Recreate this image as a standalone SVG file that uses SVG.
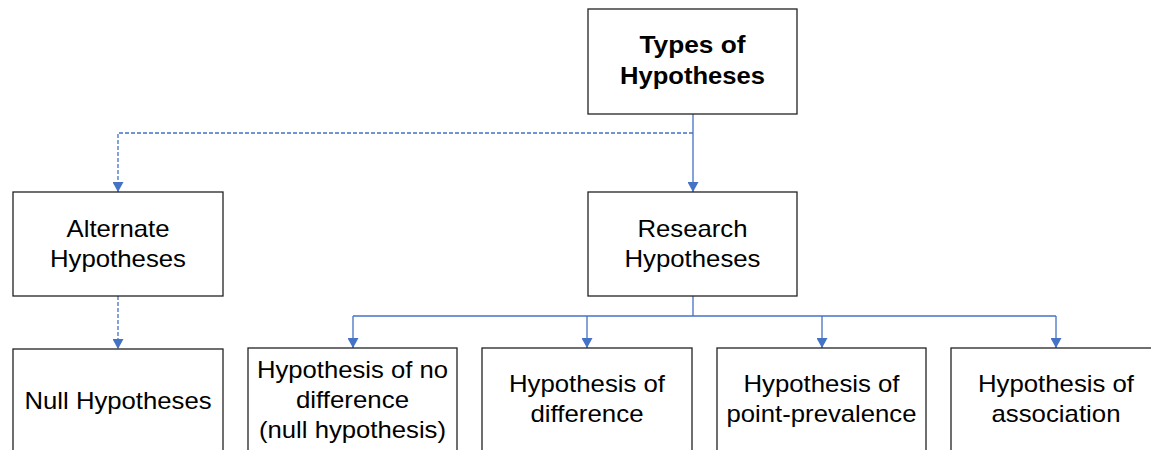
<svg xmlns="http://www.w3.org/2000/svg" width="1151" height="450" viewBox="0 0 1151 450">
<style>
.box{fill:#fff;stroke:#222;stroke-width:1.3}
.t{font-family:"Liberation Sans",Arial,sans-serif;font-size:24px;fill:#000;text-anchor:middle}
.b{font-weight:bold}
.c{fill:none;stroke:#4472C4;stroke-width:1.3}
.d{stroke-dasharray:4 2}
</style>
<defs>
<marker id="ah" markerWidth="11" markerHeight="11" refX="10" refY="5.5" orient="auto" markerUnits="userSpaceOnUse">
<path d="M0,0 L10,5.5 L0,11 Z" fill="#4472C4"/>
</marker>
</defs>
<rect width="1151" height="450" fill="#fff"/>
<g id="connectors">
<path class="c" d="M693,114 V192" marker-end="url(#ah)"/>
<path class="c d" d="M693,133 H118 V192" marker-end="url(#ah)"/>
<path class="c d" d="M118,296 V349" marker-end="url(#ah)"/>
<path class="c" d="M693,296 V316"/>
<path class="c" d="M353,316 H1056"/>
<path class="c" d="M353,316 V348" marker-end="url(#ah)"/>
<path class="c" d="M587,316 V348" marker-end="url(#ah)"/>
<path class="c" d="M822,316 V348" marker-end="url(#ah)"/>
<path class="c" d="M1056,316 V348" marker-end="url(#ah)"/>
</g>
<g id="types">
<rect class="box" x="588" y="9" width="209" height="105"/>
<text class="t b" x="692.5" y="53" textLength="106" lengthAdjust="spacingAndGlyphs">Types of</text>
<text class="t b" x="692.5" y="84" textLength="145" lengthAdjust="spacingAndGlyphs">Hypotheses</text>
</g>
<g id="alternate">
<rect class="box" x="13" y="192" width="210" height="104"/>
<text class="t" x="118" y="237" textLength="103" lengthAdjust="spacingAndGlyphs">Alternate</text>
<text class="t" x="118" y="267" textLength="136" lengthAdjust="spacingAndGlyphs">Hypotheses</text>
</g>
<g id="research">
<rect class="box" x="588" y="192" width="209" height="104"/>
<text class="t" x="692.5" y="237" textLength="110" lengthAdjust="spacingAndGlyphs">Research</text>
<text class="t" x="692.5" y="267" textLength="136" lengthAdjust="spacingAndGlyphs">Hypotheses</text>
</g>
<g id="null">
<rect class="box" x="13" y="349" width="210" height="120"/>
<text class="t" x="118" y="409" textLength="187" lengthAdjust="spacingAndGlyphs">Null Hypotheses</text>
</g>
<g id="nodiff">
<rect class="box" x="248" y="348" width="209" height="120"/>
<text class="t" x="352.5" y="378" textLength="191" lengthAdjust="spacingAndGlyphs">Hypothesis of no</text>
<text class="t" x="352.5" y="408" textLength="113" lengthAdjust="spacingAndGlyphs">difference</text>
<text class="t" x="352.5" y="438" textLength="187" lengthAdjust="spacingAndGlyphs">(null hypothesis)</text>
</g>
<g id="diff">
<rect class="box" x="482" y="348" width="210" height="120"/>
<text class="t" x="587" y="392" textLength="156" lengthAdjust="spacingAndGlyphs">Hypothesis of</text>
<text class="t" x="587" y="422" textLength="113" lengthAdjust="spacingAndGlyphs">difference</text>
</g>
<g id="prevalence">
<rect class="box" x="717" y="348" width="209" height="120"/>
<text class="t" x="821.5" y="392" textLength="156" lengthAdjust="spacingAndGlyphs">Hypothesis of</text>
<text class="t" x="821.5" y="422" textLength="190" lengthAdjust="spacingAndGlyphs">point-prevalence</text>
</g>
<g id="association">
<rect class="box" x="951" y="348" width="209" height="120"/>
<text class="t" x="1056" y="392" textLength="156" lengthAdjust="spacingAndGlyphs">Hypothesis of</text>
<text class="t" x="1056" y="422" textLength="129" lengthAdjust="spacingAndGlyphs">association</text>
</g>
</svg>
